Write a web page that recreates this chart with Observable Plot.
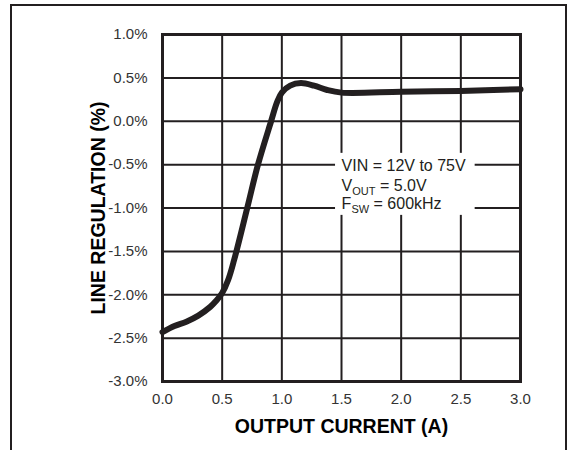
<!DOCTYPE html>
<html>
<head>
<meta charset="utf-8">
<script src="https://cdn.jsdelivr.net/npm/d3@7"></script>
<script src="https://cdn.jsdelivr.net/npm/@observablehq/plot@0.6"></script>
<style>
  html, body { margin: 0; padding: 0; background: #fff; }
  #wrap { position: relative; width: 578px; height: 450px; overflow: hidden; }
  #border { position: absolute; left: 10px; top: 4px; width: 557px; height: 460px;
            border-top: 2.5px solid #231f20; border-left: 2.5px solid #231f20; border-right: 2.5px solid #231f20; box-sizing: border-box; }
  svg { position: absolute; left: 0; top: 0; }
</style>
</head>
<body>
<div id="wrap"><div id="border"></div></div>
<script>
// Output current (A)
const current = [0.0, 0.1, 0.2, 0.3, 0.4, 0.45, 0.5, 0.55, 0.6, 0.71, 0.80, 0.91, 0.96, 1.0, 1.07, 1.16, 1.27, 1.38, 1.5, 2.0, 2.5, 3.0];
// Line regulation (%)
const regulation = [-2.43, -2.36, -2.31, -2.24, -2.14, -2.07, -1.98, -1.83, -1.6, -1.0, -0.5, 0.0, 0.22, 0.33, 0.41, 0.44, 0.41, 0.36, 0.33, 0.34, 0.35, 0.37];
const xTicks = [0, 0.5, 1.0, 1.5, 2.0, 2.5, 3.0];
const yTicks = [1.0, 0.5, 0.0, -0.5, -1.0, -1.5, -2.0, -2.5, -3.0];
const xTitle = "OUTPUT CURRENT (A)";
const yTitle = "LINE REGULATION (%)";
// annotation box (data units) and lines
const noteBox = [{x1: 1.45, x2: 2.62, y1: -0.37, y2: -1.085}];
const noteX = 1.505;
const noteLines = [
  {y: -0.51, parts: [["VIN = 12V to 75V", false]]},
  {y: -0.74, parts: [["V", false], ["OUT", true], [" = 5.0V", false]]},
  {y: -0.95, parts: [["F", false], ["SW", true], [" = 600kHz", false]]}
];

const data = current.map((c, i) => ({c, r: regulation[i]}));
const ink = "#231f20";
const font = "'Liberation Sans', Arial, Helvetica, sans-serif";

const chart = Plot.plot({
  width: 578,
  height: 450,
  marginLeft: 162,
  marginRight: 58,
  marginTop: 34,
  marginBottom: 69,
  style: {fontFamily: font, fontSize: "15px", color: ink, background: "transparent"},
  x: {domain: [0, 3], ticks: xTicks},
  y: {domain: [-3, 1], ticks: yTicks},
  marks: [
    Plot.gridX(xTicks, {stroke: ink, strokeOpacity: 1, strokeWidth: 2}),
    Plot.gridY(yTicks, {stroke: ink, strokeOpacity: 1, strokeWidth: 2}),
    Plot.rect(noteBox, {x1: "x1", x2: "x2", y1: "y1", y2: "y2", fill: "white"}),
    Plot.frame({stroke: ink, strokeWidth: 3}),
    Plot.axisX(xTicks, {tickSize: 0, tickPadding: 12, tickFormat: d => d.toFixed(1), fontSize: 15, label: null, fill: "#333"}),
    Plot.axisY(yTicks, {tickSize: 0, tickPadding: 15, tickFormat: d => d.toFixed(1) + "%", fontSize: 15, label: null, fill: "#333"}),
    Plot.line(data, {x: "c", y: "r", curve: "catmull-rom", stroke: ink, strokeWidth: 6, strokeLinecap: "round"}),
    Plot.text([xTitle], {frameAnchor: "bottom", dy: 51, text: d => d, fontSize: 19.5, fontWeight: "bold", fill: "#000"}),
    Plot.text([yTitle], {frameAnchor: "left", textAnchor: "middle", dx: -64, rotate: -90, text: d => d, fontSize: 19.5, fontWeight: "bold", fill: "#000"})
  ]
});

const sx = chart.scale("x"), sy = chart.scale("y");
const svg = d3.select(chart);
const g = svg.append("g").attr("font-family", font).attr("font-size", 16).attr("fill", ink).attr("text-anchor", "start");
for (const ln of noteLines) {
  const t = g.append("text").attr("x", sx.apply(noteX)).attr("y", sy.apply(ln.y)).attr("dy", "0.36em");
  for (const [txt, sub] of ln.parts) {
    const ts = t.append("tspan").text(txt);
    if (sub) ts.attr("font-size", 11).attr("dy", 4);
    else if (ln.parts.length > 1 && txt.startsWith(" ")) ts.attr("dy", -4);
  }
}
document.getElementById("wrap").appendChild(chart);
</script>
</body>
</html>
